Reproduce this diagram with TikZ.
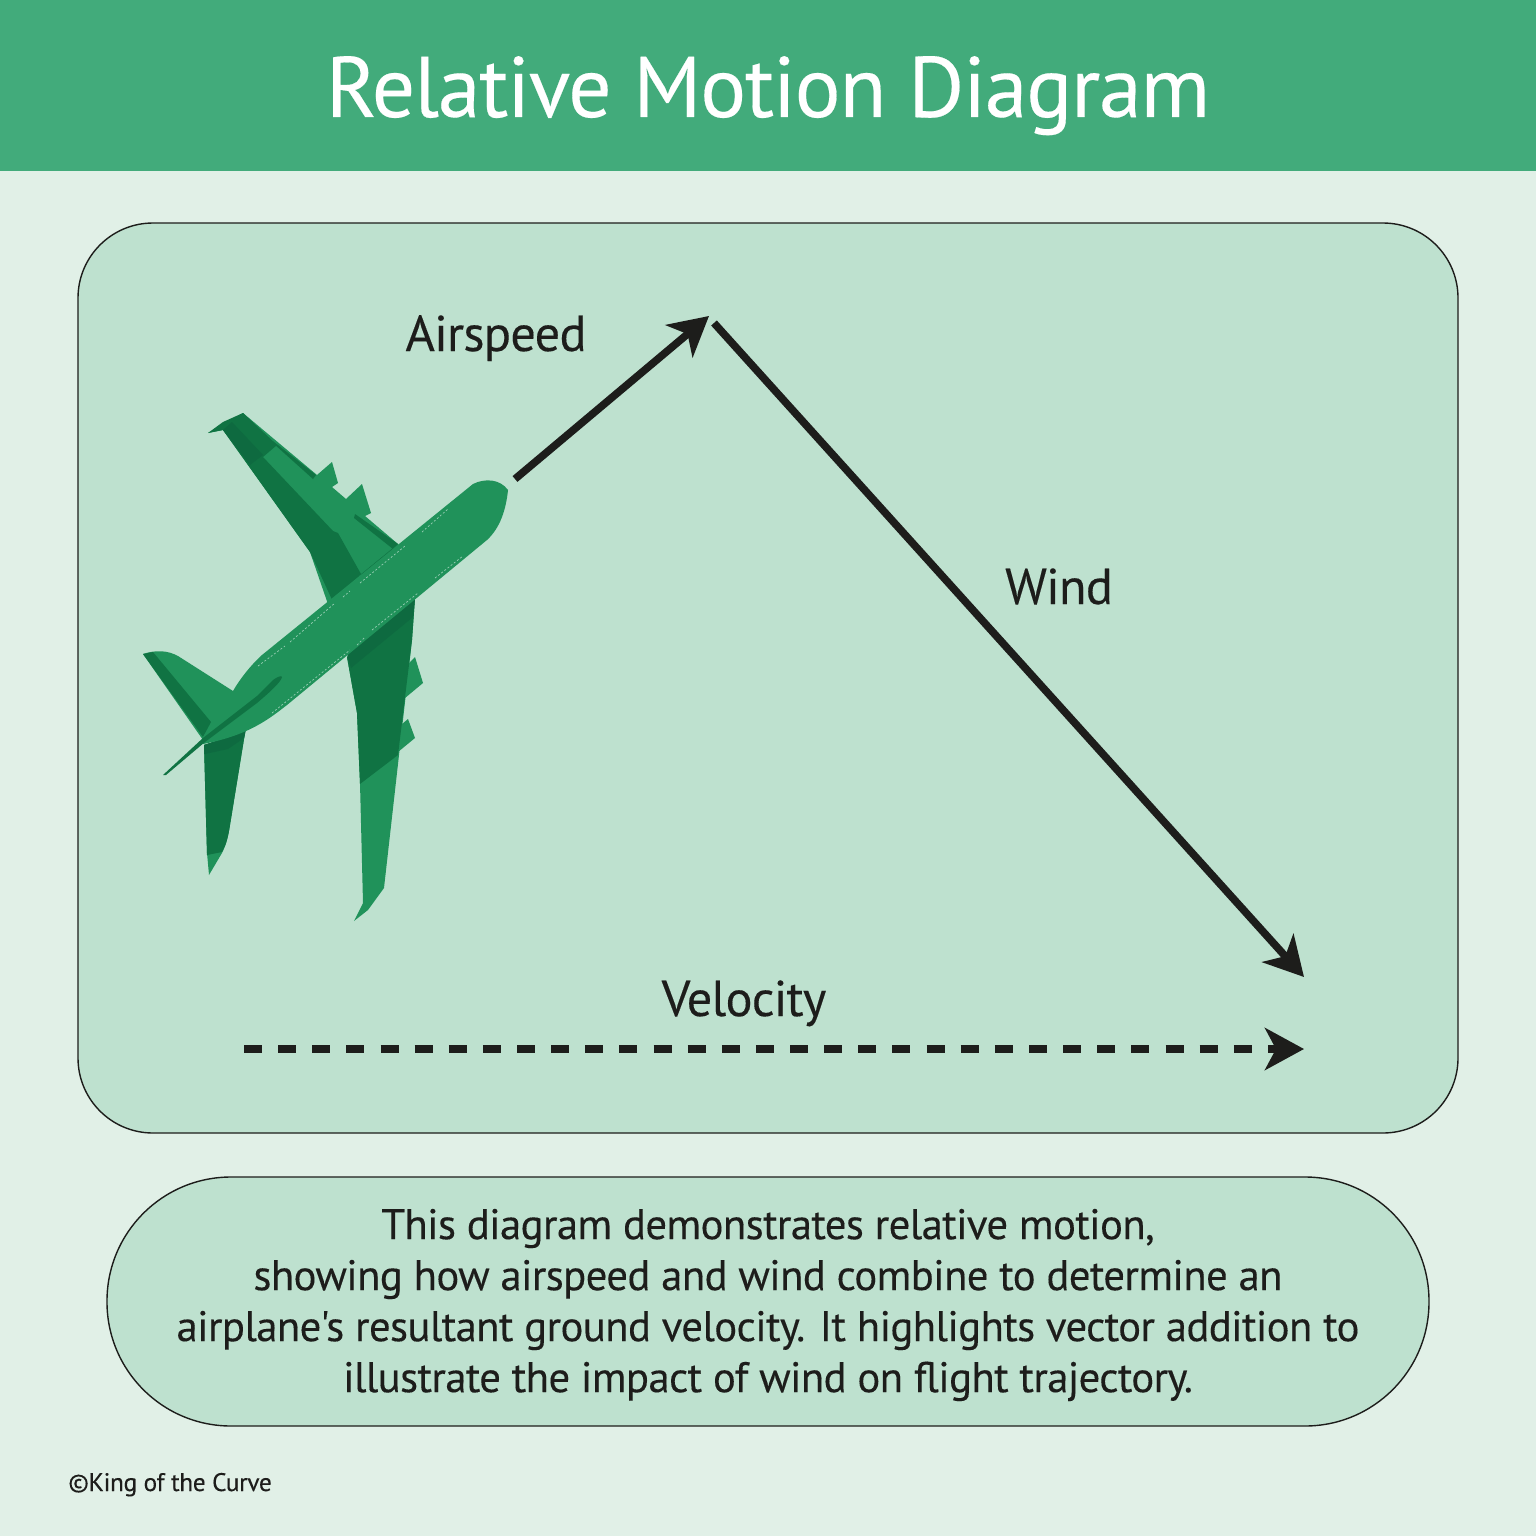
\documentclass[tikz,border=0pt]{standalone}
\usepackage{fontspec}
\setmainfont[Ligatures=TeXOff,LetterSpace=-1.5,FakeBold=0.2]{PT Sans}
\usetikzlibrary{arrows.meta}
\definecolor{pagebg}{HTML}{E1F0E7}
\definecolor{headbg}{HTML}{42AB7B}
\definecolor{panelbg}{HTML}{BEE1CF}
\definecolor{inkc}{HTML}{1D1D1B}
\definecolor{planemid}{HTML}{20925A}
\definecolor{planedark}{HTML}{107343}
\definecolor{planedeep}{HTML}{0E6A40}
\tikzset{
  panelbox/.style={fill=panelbg,draw=inkc,line width=0.7pt},
  vec/.style={draw=inkc,line width=3.8pt,-{Stealth[length=19.5pt,width=21pt,inset=5.5pt]}},
  vecdash/.style={vec,dash pattern=on 9pt off 8.065pt},
  veclabel/.style={text=inkc,font=\fontsize{25.2pt}{29pt}\selectfont,anchor=base,inner sep=0pt},
  mid/.style={fill=planemid},
  dark/.style={fill=planedark},
  deep/.style={fill=planedeep},
  seam/.style={draw=panelbg!75!planemid,line width=0.35pt,dash pattern=on 1pt off 1pt}
}
\begin{document}
\begin{tikzpicture}[x=0.5pt,y=-0.5pt]
\useasboundingbox (0,0) rectangle (1536,1536);
\fill[pagebg] (0,0) rectangle (1536,1536);
\fill[headbg] (0,0) rectangle (1536,171);
\node[text=white,font=\fontsize{43pt}{50pt}\selectfont,anchor=base,inner sep=0pt] (title) at (768,117) {Relative Motion Diagram};
\draw[panelbox,rounded corners=37.5pt] (78,223) rectangle (1458,1133);
\draw[panelbox,rounded corners=62pt] (107,1177) rectangle (1429,1426);

% upper wing
\fill[mid] (208,433) -- (243,413) -- (317,475) -- (332,462) -- (338,483) -- (332,487) -- (346,499) -- (362,484) -- (371,513) -- (365,516) -- (398,544) -- (410,560) -- (330,610) -- (310,552) -- (223,430) -- cycle;
\fill[dark] (208,433) -- (223,422) -- (243,413) -- (277,445) -- (263,457) -- (333,531) -- (338,533) -- (361,574) -- (334,604) -- (310,552) -- (223,430) -- cycle;
\fill[deep] (232,422) -- (263,455) -- (250,465) -- (223,430) -- cycle;
\fill[dark] (264,435) -- (278,445) -- (316,475) -- (313,479) -- cycle;
\fill[dark] (355,514) -- (398,544) -- (393,549) -- (354,518) -- cycle;
\fill[dark] (360,575) -- (393,548) -- (398,550) -- (362,579) -- cycle;
% lower wing
\fill[mid] (404,668) -- (415,657) -- (423,683) -- (405,698) -- cycle;
\fill[mid] (402,724) -- (408,719) -- (415,738) -- (398,752) -- cycle;
\fill[mid] (347,657) -- (357,713) -- (360,783) -- (363,903) -- (354,921) -- (368,910) -- (384,888) -- (412,640) -- (415,598) -- cycle;
\fill[dark] (347,657) -- (357,713) -- (360,784) -- (398,755) -- (412,640) -- (415,598) -- cycle;
\fill[deep] (346,650) -- (351,668) -- (413,617) -- (415,598) -- cycle;
% tailplane lower
\fill[mid] (204,745) -- (207,853) -- (209,875) -- (222,853) .. controls (226,845) and (228,838) .. (230,825) -- (245,733) -- cycle;
\fill[dark] (204,745) -- (207,855) -- (222,852) .. controls (226,845) and (228,838) .. (230,825) -- (245,733) -- cycle;
\fill[deep] (204,745) -- (205,754) -- (228,749) -- (244,738) -- (246,730) -- cycle;
% fin
\fill[mid] (143,654) .. controls (155,650) and (167,650) .. (178,656) -- (233,691) -- (260,700) -- (203,740) -- cycle;
\fill[dark] (143,654) -- (153,652) -- (211,722) -- (203,737) -- cycle;
% fuselage
\path[mid] (233,691) .. controls (240,679) and (250,666) .. (262,655) -- (473,484) .. controls (485,478) and (500,479) .. (508,490) .. controls (506,510) and (500,528) .. (487,540) -- (287,705) .. controls (270,718) and (250,735) .. (203,744) -- (203,737) -- cycle;
% streak
\fill[planedark] (163,775) -- (203,738) -- (257,696) -- (273,680) .. controls (277,677) and (282,675) .. (282,677) .. controls (281,682) and (270,692) .. (257,703) -- (205,742) -- (166,775) -- cycle;
% seams
\draw[seam] (258,666) -- (285,646);
\draw[seam] (290,642) -- (335,603);
\draw[seam] (343,597) -- (350,591);
\draw[seam] (360,583) -- (405,546);
\draw[seam] (422,532) -- (448,509);
\draw[seam] (272,713) -- (350,650);
\draw[seam] (357,645) -- (365,637);
\draw[seam] (372,630) -- (418,593);
\draw[seam] (435,578) -- (463,556);

% vectors
\coordinate (airstart) at (515,479);
\coordinate (airtip) at (709,316);
\coordinate (windstart) at (714,323);
\coordinate (windtip) at (1304,977);
\coordinate (velstart) at (244,1049);
\coordinate (veltip) at (1304,1049);
\draw[vec] (airstart) -- (airtip);
\draw[vec] (windstart) -- (windtip);
\draw[vecdash] (velstart) -- (veltip);

\node[veclabel] (airlabel) at (496,351) {Airspeed};
\node[veclabel] (windlabel) at (1059,604) {Wind};
\node[veclabel] (vellabel) at (744,1016) {Velocity};
\node[text=inkc,align=center,inner sep=0pt,font=\fontsize{21.4pt}{25.5pt}\selectfont] (caption) at (768,1305) {This diagram demonstrates relative motion,\\showing how airspeed and wind combine to determine an\\airplane's resultant ground velocity. It highlights vector addition to\\illustrate the impact of wind on flight trajectory.};
\node[text=inkc,anchor=base west,inner sep=0pt,font=\fontsize{12.7pt}{15pt}\selectfont] (copyright) at (68,1491) {©King of the Curve};
\end{tikzpicture}
\end{document}
